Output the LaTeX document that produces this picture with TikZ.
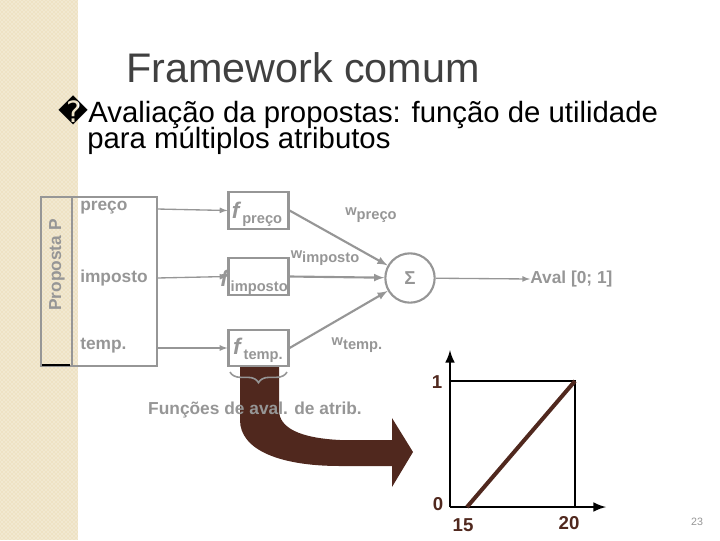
\documentclass[tikz,border=0pt]{standalone}
\usepackage{fontspec}
\setmainfont{Liberation Sans}
\newfontfamily\dvs{DejaVu Sans}
\usetikzlibrary{patterns,decorations.pathreplacing}
\definecolor{beige}{RGB}{238,226,196}
\definecolor{gtxt}{RGB}{150,150,150}
\definecolor{brn}{RGB}{80,40,30}
\begin{document}
\begin{tikzpicture}[x=0.75pt,y=-0.75pt,
  gbox/.style={draw=gtxt,line width=1.6pt},
  gline/.style={draw=gtxt,line width=1pt,-latex},
  lab/.style={text=gtxt,font=\bfseries\fontsize{13}{15}\selectfont,inner sep=0pt},
  blk/.style={font=\bfseries\fontsize{14}{16}\selectfont,inner sep=0pt}]
\useasboundingbox (0,0) rectangle (720,540);
\fill[beige] (0,0) rectangle (78,540);
\fill[pattern=crosshatch dots,pattern color=white] (0,0) rectangle (78,540);
\node[text=black!75,font=\fontsize{31}{36}\selectfont] (title) at (303,68) {Framework comum};
\node[anchor=west,font=\fontsize{22}{26}\selectfont,inner sep=0pt] (b1) at (58,112) {{\dvs\char"FFFD}Avaliação da propostas: função de utilidade};
\node[anchor=west,font=\fontsize{22}{26}\selectfont,inner sep=0pt] (b2) at (87,141) {para múltiplos atributos};
% brown arrow
\fill[brn] (240,366) -- (240,420) .. controls (240,450) and (280,466) .. (340,466) -- (392,466) -- (392,487) -- (413,452) -- (392,418) -- (392,440) -- (340,440) .. controls (300,438) and (279,428) .. (279,410) -- (279,366) -- cycle;
% proposta
\draw[gbox] (41,197) rectangle (157,366);
\draw[gbox] (41,197) rectangle (72,366);
\draw[black,line width=1pt] (42,365) -- (70,365);
\node[lab,rotate=90] (pp) at (57,265) {Proposta P};
\node[lab,anchor=west] (a1) at (80,208) {preço};
\node[lab,anchor=west] (a2) at (80,278) {imposto};
\node[lab,anchor=west] (a3) at (80,346) {temp.};
\coordinate (s1) at (157,209); \coordinate (s2) at (157,278); \coordinate (s3) at (157,348);
\node[gbox,minimum width=45pt,minimum height=28pt] (f1) at (258.5,210.5) {};
\node[gbox,minimum width=45pt,minimum height=28pt] (f2) at (258.5,276.5) {};
\node[gbox,minimum width=45pt,minimum height=27pt] (f3) at (258.5,348) {};
\node[lab] at (257,214) {{\fontsize{17}{17}\selectfont\itshape f}\,{\fontsize{11}{11}\selectfont\raisebox{-4pt}{preço}}};
\node[lab] at (254,282) {{\fontsize{17}{17}\selectfont\itshape f}\,{\fontsize{11}{11}\selectfont\raisebox{-4pt}{imposto}}};
\node[lab] at (258,350) {{\fontsize{17}{17}\selectfont\itshape f}\,{\fontsize{11}{11}\selectfont\raisebox{-4pt}{temp.}}};
\draw[gline] (s1) -- (f1.west);
\draw[gline] (s2) -- (f2.west);
\draw[gline] (s3) -- (f3.west);
\node[gbox,circle,minimum size=37pt,inner sep=0pt,text=gtxt,font=\bfseries\fontsize{14}{14}\selectfont] (sig) at (410,278) {Σ};
\draw[gline,line width=1.6pt] (f1.east) -- (sig);
\draw[gline,line width=1.6pt] (f2.east) -- (sig);
\draw[gline,line width=1.6pt] (f3.east) -- (sig);
\node[lab,font=\bfseries\fontsize{11}{11}\selectfont] (w1) at (371,215) {w\raisebox{-3pt}{preço}};
\node[lab,font=\bfseries\fontsize{11}{11}\selectfont] (w2) at (325,258) {w\raisebox{-3pt}{imposto}};
\node[lab,font=\bfseries\fontsize{11}{11}\selectfont] (w3) at (357,345) {w\raisebox{-3pt}{temp.}};
\node[lab,anchor=west] (aval) at (530,279) {Aval [0; 1]};
\draw[gline] (sig) -- (aval.west);
\draw[draw=gtxt,line width=1.2pt,decorate,decoration={brace,mirror,amplitude=8pt}] (230,372) -- (287,372);
\node[lab] (fn) at (255,410) {Funções de aval. de atrib.};
% graph
\coordinate (o) at (450,507);
\draw[line width=2.2pt,-latex] (o) -- (450,350);
\draw[line width=2.2pt,-latex] (o) -- (606,507);
\draw[line width=2.2pt] (450,381) -- (575,381) -- (575,507);
\draw[brn,line width=3pt] (467,507) -- (575,381);
\node[blk,text=brn] (l1) at (437,382) {1};
\node[blk,text=brn] (l0) at (438,504) {0};
\node[blk,text=brn] (l15) at (463,525) {15};
\node[blk,text=brn] (l20) at (569,523) {20};
\node[text=gtxt,font=\fontsize{8}{8}\selectfont] (pg) at (697,522) {23};
\end{tikzpicture}
\end{document}
